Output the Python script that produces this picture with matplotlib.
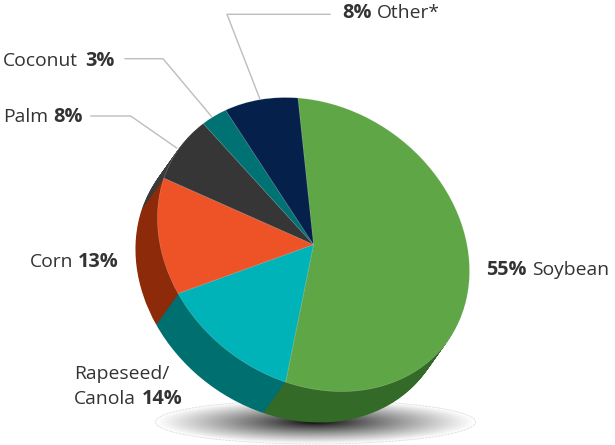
import matplotlib
matplotlib.use("Agg")
import matplotlib.pyplot as plt
import numpy as np
from matplotlib.patches import Ellipse
from matplotlib.transforms import Affine2D

names = ["Soybean", "Rapeseed/Canola", "Corn", "Palm", "Coconut", "Other*"]
shares = [55, 14, 13, 8, 3, 8]
top_colors = ["#5fa646", "#00b3b8", "#ee5327", "#363636", "#007273", "#05204a"]
side_colors = ["#346a28", "#006f70", "#8c2a0a", "#3a3a3a", "#005556", "#05204a"]

plt.rcParams['font.family'] = ['Open Sans', 'DejaVu Sans']
TEXT = "#333333"
LINE = "#bdbdbd"
FS = 13.9
FS_BOLD = 14.3


def pie_layer(ax, colors, dx, dy, zorder, **wedgeprops):
    # unit pie, then sheared into the tilted ellipse of the picture
    wedges, _ = ax.pie(shares, colors=colors, startangle=85.4, counterclock=False,
                       wedgeprops=wedgeprops)
    tr = Affine2D.from_values(153.5, 0, -28, -147, 313.5 + dx, 244.5 + dy)
    for w in wedges:
        w.set_transform(tr + ax.transData)
        w.set_zorder(zorder)


def main():
    fig = plt.figure(figsize=(6.15, 4.45), dpi=100)
    ax = fig.add_axes([0, 0, 1, 1])

    # floor shadow
    xx, yy = np.meshgrid(np.linspace(150, 480, 330), np.linspace(395, 445, 100))
    r = np.hypot((xx - 315.5) / 160, (yy - 422) / 22)
    shade = ax.imshow(np.clip(r, 0, 1) ** 0.8, cmap="gray", vmin=0, vmax=1,
                      extent=(150, 480, 445, 395), aspect="auto", zorder=1)
    rim = Ellipse((315.5, 422), 320, 44, fc="none", ec="#dddddd", lw=0.6, ls=(0, (3, 1)), zorder=2)
    ax.add_patch(rim)
    shade.set_clip_path(rim)

    # extruded side, back to front
    steps = 31
    for i in range(steps, 0, -1):
        f = i / steps
        pie_layer(ax, side_colors, -22 * f, 31 * f, 3 + (steps - i) * 0.01,
                  edgecolor="none", linewidth=0)
    pie_layer(ax, top_colors, 0, 0, 5, edgecolor=(1, 1, 1, 0.3), linewidth=0.4)

    ax.set_aspect("auto")
    ax.set_xlim(0, 615)
    ax.set_ylim(445, 0)
    ax.axis("off")

    # leader lines
    ax.plot([330, 227, 260], [14.3, 14.3, 99.3], color=LINE, lw=1, zorder=6)
    ax.plot([125, 163, 211.7], [58.7, 58.7, 116.7], color=LINE, lw=1, zorder=6)
    ax.plot([91, 130.7, 176.7], [116, 116, 148], color=LINE, lw=1, zorder=6)

    def label(x, y, s, bold=False):
        ax.text(x, y, s, color=TEXT, fontsize=FS_BOLD if bold else FS, va="center", ha="left",
                fontweight="bold" if bold else "normal", zorder=7)

    pct = [f"{v}%" for v in shares]
    label(486, 270, pct[0], True)
    label(532, 270, names[0])
    label(74, 374, "Rapeseed/")
    label(74, 399, "Canola")
    label(142, 399, pct[1], True)
    label(30, 262, names[2])
    label(78, 262, pct[2], True)
    label(3, 117, names[3])
    label(53, 117, pct[3], True)
    label(3, 61, names[4])
    label(85, 61, pct[4], True)
    label(342, 13, pct[5], True)
    label(377, 13, names[5])

    fig.savefig("out.png", dpi=100)


if __name__ == "__main__":
    main()
